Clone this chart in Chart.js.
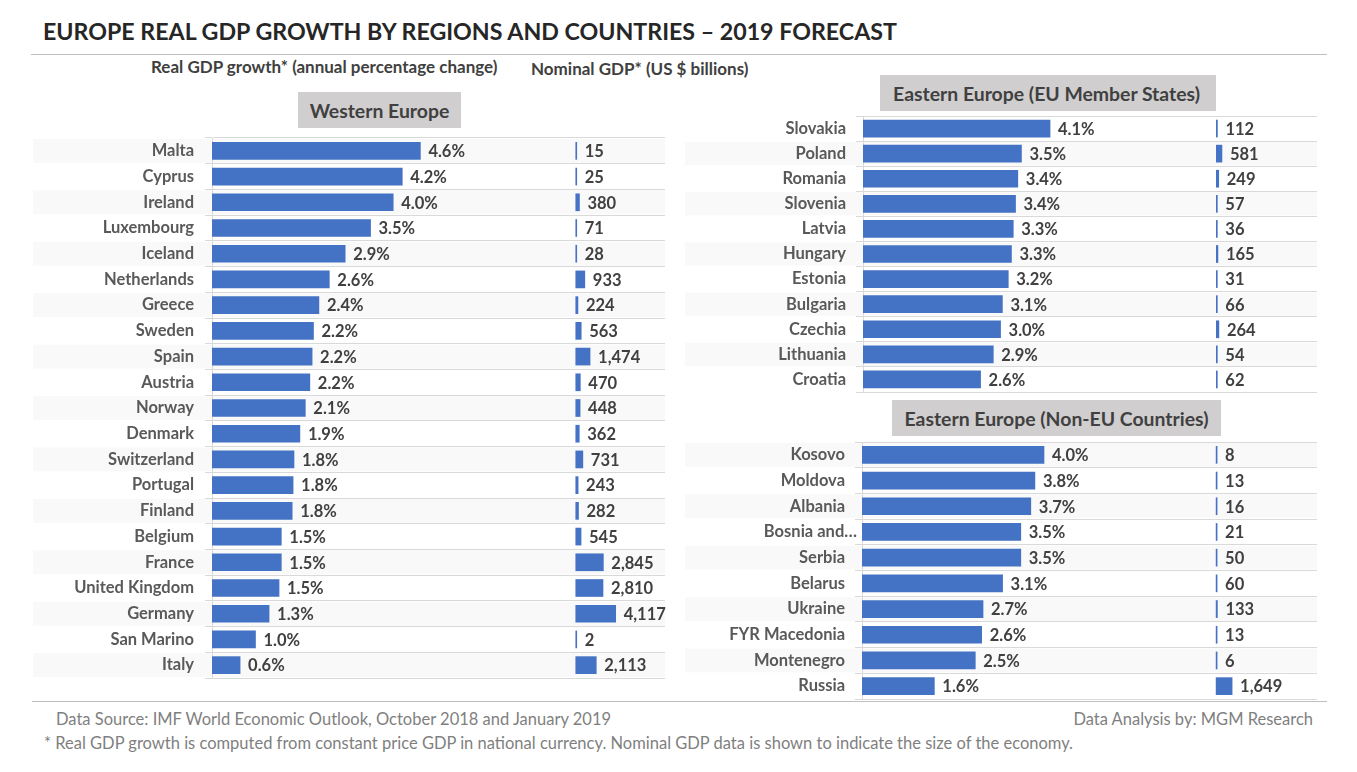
<!DOCTYPE html>
<html>
<head>
<meta charset="utf-8">
<title>Europe Real GDP Growth</title>
<script src="https://cdn.jsdelivr.net/npm/chart.js@4"></script>
<style>
  html, body { margin: 0; padding: 0; background: #fff; }
  body { width: 1357px; height: 772px; position: relative; overflow: hidden; font-family: Lato, sans-serif; }
  canvas { position: absolute; }
  .txt { position: absolute; white-space: nowrap; line-height: 1; }
  .titulo { left: 43px; top: 20px; font-size: 23.2px; font-weight: 700; color: #262626; }
  .sub { font-size: 17px; font-weight: 700; color: #404040; }
  .caixa { position: absolute; background: #d0cece; color: #404040; font-size: 19.4px; font-weight: 700;
           display: flex; align-items: center; justify-content: center; }
  .linha { position: absolute; height: 1px; background: #bfbfbf; }
  .nota { font-size: 16.5px; color: #7f7f7f; }
</style>
</head>
<body>

<div class="txt titulo">EUROPE REAL GDP GROWTH BY REGIONS AND COUNTRIES – 2019 FORECAST</div>
<div class="linha" style="left:31px;top:54px;width:1296px"></div>
<div class="txt sub" style="left:151px;top:58px">Real GDP growth* (annual percentage change)</div>
<div class="txt sub" style="left:531px;top:60px">Nominal GDP* (US $ billions)</div>

<div class="caixa" style="left:298px;top:92px;width:163px;height:36px">Western Europe</div>
<div class="caixa" style="left:880px;top:75px;width:336px;height:36px;padding-right:3px;box-sizing:border-box">Eastern Europe (EU Member States)</div>
<div class="caixa" style="left:892px;top:400px;width:329px;height:36px">Eastern Europe (Non-EU Countries)</div>

<canvas id="graficoOeste" width="640" height="542" style="left:30px;top:137px"></canvas>
<canvas id="graficoUE" width="640" height="278" style="left:682px;top:115px"></canvas>
<canvas id="graficoNaoUE" width="640" height="259" style="left:682px;top:441px"></canvas>

<div class="linha" style="left:32px;top:701px;width:1295px"></div>
<div class="txt nota" style="left:56px;top:711px">Data Source: IMF World Economic Outlook, October 2018 and January 2019</div>
<div class="txt nota" style="right:44px;top:711px">Data Analysis by: MGM Research</div>
<div class="txt nota" style="left:44px;top:735px">* Real GDP growth is computed from constant price GDP in national currency. Nominal GDP data is shown to indicate the size of the economy.</div>

<script>
// ===== DATA =====
const westernCountries = ["Malta", "Cyprus", "Ireland", "Luxembourg", "Iceland", "Netherlands", "Greece", "Sweden", "Spain", "Austria", "Norway", "Denmark", "Switzerland", "Portugal", "Finland", "Belgium", "France", "United Kingdom", "Germany", "San Marino", "Italy"];
const westernGrowth = [4.6, 4.2, 4.0, 3.5, 2.94, 2.59, 2.36, 2.24, 2.21, 2.16, 2.06, 1.94, 1.81, 1.79, 1.77, 1.53, 1.53, 1.48, 1.26, 0.96, 0.62];
const westernNominal = [15, 25, 380, 71, 28, 933, 224, 563, 1474, 470, 448, 362, 731, 243, 282, 545, 2845, 2810, 4117, 2, 2113];

const euCountries = ["Slovakia", "Poland", "Romania", "Slovenia", "Latvia", "Hungary", "Estonia", "Bulgaria", "Czechia", "Lithuania", "Croatia"];
const euGrowth = [4.12, 3.49, 3.41, 3.36, 3.31, 3.27, 3.2, 3.07, 3.03, 2.87, 2.59];
const euNominal = [112, 581, 249, 57, 36, 165, 31, 66, 264, 54, 62];

const nonEuCountries = ["Kosovo", "Moldova", "Albania", "Bosnia and…", "Serbia", "Belarus", "Ukraine", "FYR Macedonia", "Montenegro", "Russia"];
const nonEuGrowth = [4.0, 3.8, 3.71, 3.49, 3.49, 3.09, 2.66, 2.63, 2.49, 1.59];
const nonEuNominal = [8, 13, 16, 21, 50, 60, 133, 13, 6, 1649];

// ===== COLORS =====
const AZUL = "#4472c4";
const GRADE = "#d9d9d9";
const FAIXA = "#f9f9f9";
const TEXTO_ROTULO = "#595959";
const TEXTO_VALOR = "#404040";

// alternating row bands behind the grid, they go under the country names too
const faixas = {
  id: "faixas",
  beforeDraw(chart, args, opts) {
    const y = chart.scales.y;
    const ctx = chart.ctx;
    ctx.save();
    ctx.fillStyle = FAIXA;
    chart.data.labels.forEach((nome, i) => {
      if (i % 2 !== opts.inicio) return;
      const meio = y.getPixelForValue(i);
      const passo = y.getPixelForValue(1) - y.getPixelForValue(0);
      ctx.fillRect(3, meio - passo / 2 + 1, chart.chartArea.right - 3, passo - 2);
    });
    // the truncated name sits closer to the axis than the others
    y.getLabelItems(chart.chartArea).forEach(item => {
      if (String(item.label).endsWith("…") && !item.movido) {
        item.options.translation[0] += 12;
        item.movido = true;
      }
    });
    ctx.restore();
  }
};

// value labels to the right of each bar
const rotulos = {
  id: "rotulos",
  afterDatasetsDraw(chart) {
    const ctx = chart.ctx;
    ctx.save();
    ctx.font = "700 16.5px Lato";
    ctx.fillStyle = TEXTO_VALOR;
    ctx.textAlign = "left";
    ctx.textBaseline = "middle";
    chart.data.datasets.forEach((ds, d) => {
      chart.getDatasetMeta(d).data.forEach((bar, i) => {
        const texto = d === 0 ? ds.data[i].toFixed(1) + "%" : ds.data[i].toLocaleString("en-US");
        ctx.fillText(texto, bar.x + 8, bar.y + 1);
      });
    });
    ctx.restore();
  }
};

// ===== ONE CHART PER PANEL =====
function criarPainel(id, paises, crescimento, nominal, cfg) {
  new Chart(document.getElementById(id), {
    type: "bar",
    data: {
      labels: paises,
      datasets: [
        { data: crescimento, xAxisID: "x", backgroundColor: AZUL, barThickness: 17, grouped: false },
        { data: nominal, xAxisID: "x2", backgroundColor: AZUL, barThickness: 17, grouped: false, minBarLength: 1 }
      ]
    },
    plugins: [faixas, rotulos],
    options: {
      indexAxis: "y",
      responsive: false,
      animation: false,
      layout: { autoPadding: false, padding: { top: 1, bottom: 1, right: 5 } },
      plugins: {
        legend: { display: false },
        tooltip: { enabled: false },
        faixas: { inicio: cfg.inicio }
      },
      scales: {
        x: { display: false, min: 0, max: 10 },
        x2: { display: false, axis: "x", min: cfg.nominalMin, max: cfg.nominalMax },
        y: {
          afterFit: s => { s.width = cfg.larguraEixo; s.paddingTop = 0; s.paddingBottom = 0; },
          border: { color: GRADE },
          grid: { color: GRADE, offset: true, tickLength: 7, tickColor: GRADE },
          ticks: {
            autoSkip: false,
            padding: cfg.padding,
            color: TEXTO_ROTULO,
            font: { family: "Lato", size: 16.5, weight: "700" }
          }
        }
      }
    }
  });
}

criarPainel("graficoOeste", westernCountries, westernGrowth, westernNominal,
  { inicio: 0, nominalMin: -37500, nominalMax: 9200, larguraEixo: 182, padding: 11 });
criarPainel("graficoUE", euCountries, euGrowth, euNominal,
  { inicio: 1, nominalMin: -36500, nominalMax: 10400, larguraEixo: 181, padding: 10 });
criarPainel("graficoNaoUE", nonEuCountries, nonEuGrowth, nonEuNominal,
  { inicio: 0, nominalMin: -36500, nominalMax: 10400, larguraEixo: 180, padding: 10 });
</script>
</body>
</html>
